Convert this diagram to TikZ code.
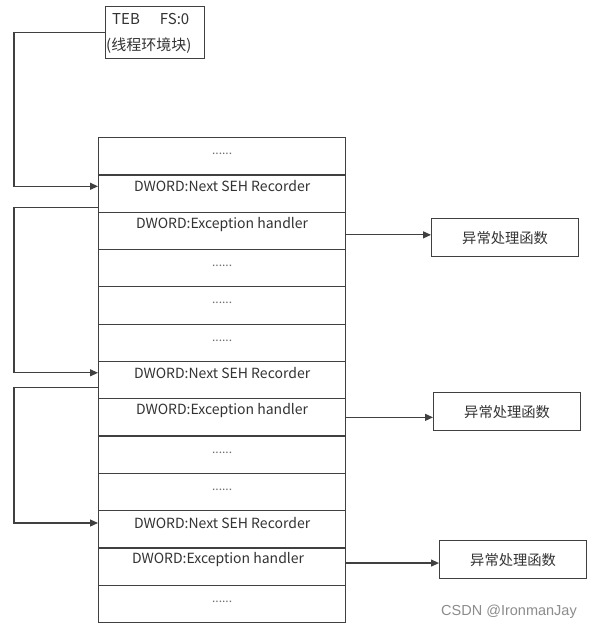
\documentclass[tikz,border=0pt]{standalone}
\usepackage{fontspec}
\setmainfont{Noto Sans CJK SC}
\newfontfamily\wmfont{Liberation Sans}
\usetikzlibrary{arrows.meta}
\definecolor{ln}{HTML}{404040}
\definecolor{tx}{HTML}{333333}
\tikzset{
  cell/.style={draw=ln, line width=1.2pt, minimum width=247pt, minimum height=37.3pt, anchor=north west, inner sep=0pt},
  hbox/.style={draw=ln, line width=1.2pt, minimum width=147pt, minimum height=38pt, inner sep=0pt, text=tx, font=\fontsize{14.3}{16}\selectfont},
  lbl/.style={text=tx, inner sep=0pt, font=\fontsize{14}{16}\selectfont},
  tebl/.style={text=tx, inner sep=0pt, font=\fontsize{15}{17}\selectfont},
  dots/.style={text=tx!70, inner sep=0pt, font=\fontsize{12}{13}\selectfont},
  conn/.style={draw=ln, line width=1.2pt},
  arr/.style={conn, -{Triangle[length=8pt,width=7pt]}}
}
\begin{document}
\begin{tikzpicture}[x=1pt,y=-1pt]
\useasboundingbox[fill=white] (0,0) rectangle (595,630);
% TEB box
\node[draw=ln, line width=1.2pt, minimum width=99pt, minimum height=52pt, anchor=north west, inner sep=0pt] (teb) at (105,6) {};
\node[tebl, anchor=west] (teb1) at (112,19) {TEB\hspace{20pt}FS:0};
\node[tebl, anchor=west] (teb2) at (106,46) {(线程环境块)};
% stack rows
\foreach \i in {1,...,13} {
  \node[cell] (r\i) at (98,{137+(\i-1)*37.3}) {};
}
% row texts
\foreach \i in {1,4,5,6,9,10,13} {
  \node[dots] (d\i) at ([yshift=-17pt]r\i.north) {......};
}
\node[lbl] (t2) at ([yshift=-12pt]r2.north) {DWORD:Next SEH Recorder};
\node[lbl] (t3) at ([yshift=-13pt]r3.north) {DWORD:Exception handler};
\node[lbl] (t7) at ([yshift=-12pt]r7.north) {DWORD:Next SEH Recorder};
\node[lbl] (t8) at ([yshift=-12pt]r8.north) {DWORD:Exception handler};
\node[lbl] (t11) at ([yshift=-13pt]r11.north) {DWORD:Next SEH Recorder};
\node[lbl] (t12) at ([xshift=-4pt,yshift=-12pt]r12.north) {DWORD:Exception handler};
% handler boxes
\node[hbox, anchor=north west] (h1) at (431,218) {异常处理函数};
\node[hbox, anchor=north west] (h2) at (433,392) {异常处理函数};
\node[hbox, anchor=north west] (h3) at (439,540) {异常处理函数};
% chain connectors
\coordinate (lx) at (14,0);
\draw[arr] (teb.west) -- (teb.west -| lx) -- (lx |- t2) -- (r2.west |- t2);
\coordinate (s2) at ([yshift=5pt]r2.south west);
\draw[arr] (s2) -- (s2 -| lx) -- (lx |- t7) -- (r7.west |- t7);
\coordinate (s7) at ([yshift=12pt]r7.south west);
\draw[arr] (s7) -- (s7 -| lx) -- (lx |- t11) -- (r11.west |- t11);
% handler arrows
\coordinate (e3) at ([yshift=-4pt]r3.east);
\draw[arr] (e3) -- (e3 -| h1.west);
\coordinate (e8) at (r8.east);
\draw[arr] (e8) -- (e8 -| h2.west);
\coordinate (e12) at ([yshift=3.5pt]r12.east);
\draw[arr] (e12) -- (e12 -| h3.west);
% watermark
\node[text=black!45, inner sep=0pt, font=\wmfont\fontsize{14.5}{16}\selectfont] (wm) at (509,612) {CSDN @IronmanJay};
\end{tikzpicture}
\end{document}
